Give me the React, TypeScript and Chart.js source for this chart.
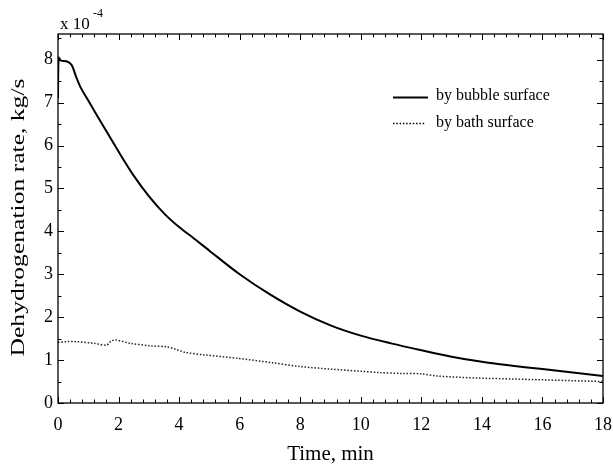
import React, { useEffect, useRef } from "react";
import { Chart, registerables } from "chart.js";

Chart.register(...registerables);

const timeBubble = [0, 0.02, 0.1, 0.3, 0.45, 0.6, 0.75, 1.0, 1.5, 2.0, 2.5, 3.0, 3.5, 4.0, 4.5, 5.0, 6.0, 7.0, 8.0, 9.0, 10.0, 11.0, 12.0, 13.0, 14.0, 15.0, 16.0, 17.0, 18.0];
const rateBubble = [7.1, 8.05, 7.98, 7.96, 7.88, 7.6, 7.35, 7.05, 6.45, 5.86, 5.3, 4.82, 4.42, 4.1, 3.83, 3.55, 3.0, 2.53, 2.13, 1.81, 1.57, 1.39, 1.23, 1.08, 0.96, 0.87, 0.79, 0.71, 0.63];

const timeBath = [0, 0.3, 0.6, 1.2, 1.6, 1.75, 1.9, 2.4, 3.1, 3.6, 3.9, 4.2, 4.85, 5.95, 7.06, 8.0, 9.0, 10.0, 10.6, 11.3, 12.0, 12.5, 13.9, 15.0, 16.0, 17.0, 18.0];
const rateBath = [1.41, 1.43, 1.43, 1.39, 1.35, 1.44, 1.47, 1.39, 1.33, 1.31, 1.25, 1.18, 1.12, 1.04, 0.94, 0.85, 0.79, 0.74, 0.71, 0.69, 0.68, 0.63, 0.58, 0.56, 0.54, 0.52, 0.5];

const xTicks = [0, 2, 4, 6, 8, 10, 12, 14, 16, 18];
const yTicks = [0, 1, 2, 3, 4, 5, 6, 7, 8];
const legendLabels = ["by bubble surface", "by bath surface"];
const xTitle = "Time, min";
const yTitle = "Dehydrogenation rate, kg/s";
const SERIF = "'Liberation Serif', 'Times New Roman', serif";

const decorPlugin = {
  id: "decor",
  afterDatasetsDraw(chart: any) {
    const { ctx, chartArea, scales } = chart;
    const { left, right, top, bottom } = chartArea;
    const xs = scales.x;
    const ys = scales.y;
    ctx.save();
    ctx.strokeStyle = "#000";
    ctx.lineWidth = 1.3;
    ctx.strokeRect(left, top, right - left, bottom - top);
    ctx.lineWidth = 1;
    ctx.beginPath();
    for (let i = 0; i <= 45; i++) {
      const v = i * 0.4;
      const px = Math.round(xs.getPixelForValue(v)) + 0.5;
      const major = i % 5 === 0;
      const len = major ? 6 : 3.5;
      ctx.moveTo(px, bottom);
      ctx.lineTo(px, bottom - len);
      ctx.moveTo(px, top);
      ctx.lineTo(px, top + len);
    }
    for (let i = 0; i <= 17; i++) {
      const v = i * 0.5;
      const py = Math.round(ys.getPixelForValue(v)) + 0.5;
      const major = i % 2 === 0;
      const len = major ? 6 : 3.5;
      ctx.moveTo(left, py);
      ctx.lineTo(left + len, py);
      ctx.moveTo(right, py);
      ctx.lineTo(right - len, py);
    }
    ctx.stroke();

    ctx.fillStyle = "#000";
    ctx.font = `16px ${SERIF}`;
    ctx.textBaseline = "middle";
    ctx.textAlign = "left";
    ctx.lineWidth = 2;
    ctx.beginPath();
    ctx.moveTo(393, 97.5);
    ctx.lineTo(428, 97.5);
    ctx.stroke();
    ctx.fillText(legendLabels[0], 436, 96);
    ctx.lineWidth = 1.5;
    ctx.setLineDash([1.5, 1.8]);
    ctx.beginPath();
    ctx.moveTo(393, 123.5);
    ctx.lineTo(426, 123.5);
    ctx.stroke();
    ctx.setLineDash([]);
    ctx.fillText(legendLabels[1], 436, 123);

    ctx.textBaseline = "alphabetic";
    ctx.font = `17px ${SERIF}`;
    ctx.fillText("x 10", 60, 29);
    ctx.font = `12px ${SERIF}`;
    ctx.fillText("-4", 93, 17);

    ctx.font = `21px ${SERIF}`;
    ctx.textAlign = "center";
    ctx.fillText(xTitle, (left + right) / 2, 460);

    ctx.font = `19px ${SERIF}`;
    const w = ctx.measureText(yTitle).width;
    const targetLen = 278;
    ctx.translate(24, 217.5);
    ctx.rotate(-Math.PI / 2);
    ctx.scale(targetLen / w, 1);
    ctx.textAlign = "center";
    ctx.fillText(yTitle, 0, 0);
    ctx.restore();
  },
};

export default function App() {
  const ref = useRef<HTMLCanvasElement | null>(null);
  useEffect(() => {
    if (!ref.current) return;
    const chart = new Chart(ref.current, {
      type: "line",
      data: {
        datasets: [
          {
            label: legendLabels[0],
            data: timeBubble.map((t, i) => ({ x: t, y: rateBubble[i] })),
            borderColor: "#000",
            borderWidth: 2,
            pointRadius: 0,
            tension: 0.3,
            fill: false,
          },
          {
            label: legendLabels[1],
            data: timeBath.map((t, i) => ({ x: t, y: rateBath[i] })),
            borderColor: "#222",
            borderWidth: 1.5,
            borderDash: [1.5, 1.8],
            pointRadius: 0,
            tension: 0.3,
            fill: false,
          },
        ],
      },
      options: {
        animation: false,
        responsive: false,
        maintainAspectRatio: false,
        layout: { padding: { top: 34, right: 10, left: 0, bottom: 0 } },
        plugins: { legend: { display: false }, tooltip: { enabled: false }, title: { display: false } },
        scales: {
          x: {
            type: "linear",
            min: 0,
            max: 18,
            grid: { display: false, drawTicks: false },
            border: { display: false },
            afterBuildTicks: (s: any) => {
              s.ticks = xTicks.map((v) => ({ value: v }));
            },
            afterFit: (s: any) => {
              s.height = 63;
              s.paddingLeft = 0;
              s.paddingRight = 0;
            },
            ticks: {
              padding: 11,
              maxRotation: 0,
              autoSkip: false,
              color: "#000",
              font: { family: SERIF, size: 18 },
              callback: (v: any) => String(v),
            },
          },
          y: {
            type: "linear",
            min: 0,
            max: 8.6,
            grid: { display: false, drawTicks: false },
            border: { display: false },
            afterBuildTicks: (s: any) => {
              s.ticks = yTicks.map((v) => ({ value: v }));
            },
            afterFit: (s: any) => {
              s.width = 58;
              s.paddingTop = 0;
              s.paddingBottom = 0;
            },
            ticks: {
              padding: 5,
              autoSkip: false,
              color: "#000",
              font: { family: SERIF, size: 18 },
              callback: (v: any) => String(v),
            },
          },
        },
      },
      plugins: [decorPlugin],
    } as any);
    return () => chart.destroy();
  }, []);
  return (
    <div style={{ position: "fixed", left: 0, top: 0, width: 613, height: 466, background: "#fff" }}>
      <canvas ref={ref} width={613} height={466} style={{ width: 613, height: 466, display: "block" }} />
    </div>
  );
}
